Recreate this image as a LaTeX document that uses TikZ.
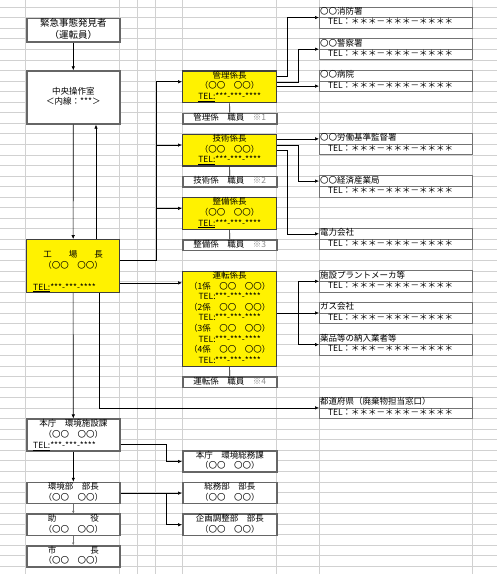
\documentclass[tikz,border=0pt]{standalone}
\usepackage{fontspec}
\setmainfont{Noto Sans CJK JP}
\usetikzlibrary{arrows.meta, positioning}

\newcommand{\cellfont}{\fontsize{8.5}{10.55}\selectfont}

\tikzset{
  grid line/.style={draw=black!18, line width=0.4pt},
  plainbox/.style={draw=black!60, line width=1.6pt, fill=white, anchor=north west,
    minimum width=93pt, inner sep=0pt, align=center, font=\cellfont},
  chiefbox/.style={draw=black!75, line width=1.3pt, fill=yellow, anchor=north west,
    minimum width=94pt, inner sep=0pt, align=center, font=\cellfont},
  staffbox/.style={draw=black!60, line width=1.6pt, fill=white, anchor=north west,
    minimum width=94pt, minimum height=10.55pt, inner sep=0pt, font=\cellfont},
  contactbox/.style={draw=black!55, line width=0.7pt, fill=white, anchor=north west,
    text width=151pt, inner xsep=1pt, inner ysep=0pt, outer sep=0pt,
    minimum height=10.55pt, align=left, font=\cellfont},
  telnote/.style={anchor=west, inner sep=0pt, font=\cellfont},
  link/.style={line width=0.6pt, -{Latex[length=4pt,width=3.5pt]}},
  smalllink/.style={draw=black!55, line width=0.4pt, -{Latex[length=2.5pt,width=2.5pt]}},
}

\begin{document}
\begin{tikzpicture}[x=1pt, y=-1pt]
  \useasboundingbox (0,0) rectangle (497,574);
  \fill[white] (0,0) rectangle (497,574);
  % sheet grid
  \foreach \k in {0,...,53}
    \draw[grid line] (0,7+10.55*\k) -- (497,7+10.55*\k);
  \foreach \x in {25,119,137,155,182,276,319,472}
    \draw[grid line] (\x,0) -- (\x,574);

  % left column
  \node[plainbox, minimum height=21.1pt, font=\fontsize{9.5}{10.55}\selectfont]
    (finder) at (26,17.55) {\strut 緊急事態発見者\\\strut（運転員）};
  \node[plainbox, minimum height=52.75pt] (control) at (26,70.3)
    {\strut 中央操作室\\\strut ＜内線：***＞};
  \node[chiefbox, minimum width=93pt, minimum height=52.75pt] (manager) at (26,239.1)
    {\strut 工　　場　　長\\\strut（〇〇　〇〇）\\\strut};
  \node[telnote] (manager-tel) at ([xshift=7pt,yshift=5.3pt]manager.south west)
    {\underline{TEL:}***-***-****};
  \node[plainbox, minimum height=31.65pt] (office) at (26,418.45)
    {\strut 本庁　環境施設課\\\strut（〇〇　〇〇）\\\strut};
  \node[telnote] (office-tel) at ([xshift=7pt,yshift=5.3pt]office.south west)
    {\underline{TEL:}***-***-****};
  \node[plainbox, minimum height=21.1pt] (envdir) at (26,481.75)
    {\strut 環境部　部長\\\strut（〇〇　〇〇）};
  \node[plainbox, minimum height=21.1pt] (deputy) at (26,513.4)
    {\strut 助　　　　役\\\strut（〇〇　〇〇）};
  \node[plainbox, minimum height=21.1pt] (mayor) at (26,545.05)
    {\strut 市　　　　長\\\strut（〇〇　〇〇）};

  % section chiefs
  \node[chiefbox, minimum height=31.65pt] (admin) at (182,70.3)
    {\strut 管理係長\\\strut（〇〇　〇〇）\\\strut\underline{TEL:}***-***-****};
  \node[staffbox] (admin-staff) at (182,112.5) {\strut 管理係　職員　\textcolor{black!45}{※1}};
  \node[chiefbox, minimum height=31.65pt] (tech) at (182,133.6)
    {\strut 技術係長\\\strut（〇〇　〇〇）\\\strut\underline{TEL:}***-***-****};
  \node[staffbox] (tech-staff) at (182,175.8) {\strut 技術係　職員　\textcolor{black!45}{※2}};
  \node[chiefbox, minimum height=31.65pt] (maint) at (182,196.9)
    {\strut 整備係長\\\strut（〇〇　〇〇）\\\strut\underline{TEL:}***-***-****};
  \node[staffbox] (maint-staff) at (182,239.1) {\strut 整備係　職員　\textcolor{black!45}{※3}};
  \node[chiefbox, minimum height=94.95pt] (ops) at (182,270.75)
    {\strut 運転係長\\
     \strut（1係　〇〇　〇〇）\\\strut TEL:***-***-****\\
     \strut（2係　〇〇　〇〇）\\\strut TEL:***-***-****\\
     \strut（3係　〇〇　〇〇）\\\strut TEL:***-***-****\\
     \strut（4係　〇〇　〇〇）\\\strut TEL:***-***-****};
  \node[staffbox] (ops-staff) at (182,376.25) {\strut 運転係　職員　\textcolor{black!45}{※4}};

  % city hall
  \node[plainbox, minimum width=94pt, minimum height=21.1pt] (hq) at (182,450.1)
    {\strut 本庁　環境総務課\\\strut（〇〇　〇〇）};
  \node[plainbox, minimum width=94pt, minimum height=21.1pt] (genaff) at (182,481.75)
    {\strut 総務部　部長\\\strut（〇〇　〇〇）};
  \node[plainbox, minimum width=94pt, minimum height=21.1pt] (planning) at (182,513.4)
    {\strut 企画調整部　部長\\\strut（〇〇　〇〇）};

  % outside contacts
  \foreach \id/\top/\name in {fire/7/〇〇消防署, police/38.65/〇〇警察署,
      hospital/70.3/〇〇病院, labour/133.6/〇〇労働基準監督署,
      meti/175.8/〇〇経済産業局, power/228.55/電力会社,
      plant/270.75/施設プラントメーカ等, gas/302.4/ガス会社,
      chem/334.05/薬品等の納入業者等, pref/397.35/都道府県（廃棄物担当窓口）}{
    \node[contactbox] (\id) at (319,\top) {\strut\name};
    \node[contactbox, below=0pt of \id] (\id-tel)
      {\strut\hspace*{8pt}TEL：＊＊＊－＊＊＊－＊＊＊＊};
  }

  % line columns
  \coordinate (busA) at (156,0);
  \coordinate (colA) at (287,0);
  \coordinate (colB) at (298,0);
  \coordinate (upx) at (96,0);
  \coordinate (colC) at (99,0);
  \coordinate (colD) at (166,0);

  % reporting lines
  \draw[link] (finder.south) -- (control.north);
  \draw[link] (control.south) -- (manager.north);
  \draw[link] (upx |- manager.north) -- (upx |- control.south);
  \draw[link] ([yshift=5.5pt]manager.east) -| ([yshift=5pt]busA |- admin.west)
    -- ([yshift=5pt]admin.west);
  \draw[link] ([yshift=5pt]busA |- tech.west) -- ([yshift=5pt]tech.west);
  \draw[link] ([yshift=5pt]busA |- maint.west) -- ([yshift=5pt]maint.west);
  \draw[link] ([yshift=36pt]manager.east |- ops.west) -- ([yshift=36pt]ops.west);
  \draw[link] (colC |- manager.south) |- (pref.south west);
  \draw[link] (manager.south) -- (office.north);
  \draw[link] (office.south) -- (envdir.north);
  \draw[smalllink] (envdir.south) -- (deputy.north);
  \draw[smalllink] (deputy.south) -- (mayor.north);
  \draw[link] ([yshift=-9.5pt]office.east) -| (colD |- hq.west) -- (hq.west);
  \draw[link] (envdir.east) -- (genaff.west);
  \draw[link] (colD |- envdir.east) |- (planning.west);

  % staff
  \draw[line width=0.6pt] (admin.south) -- (admin-staff.north);
  \draw[line width=0.6pt] (tech.south) -- (tech-staff.north);
  \draw[line width=0.6pt] (maint.south) -- (maint-staff.north);
  \draw[line width=0.6pt] (ops.south) -- (ops-staff.north);

  % contacts
  \draw[link] ([yshift=10pt]admin.east) -| (colA |- fire.south west) -- (fire.south west);
  \draw[link] ([yshift=4pt]admin.east) -| (colB |- police.south west) -- (police.south west);
  \draw[link] (admin.east |- hospital-tel.west) -- (hospital-tel.west);
  \draw[link] (tech.east |- labour.west) -- (labour.west);
  \draw[link] ([yshift=4.5pt]tech.east) -| (colB |- meti.west) -- (meti.west);
  \draw[link] (tech.east) -| (colA |- power.west) -- (power.west);
  \draw[link] (ops.east |- gas.south west) -- (gas.south west);
  \draw[line width=0.6pt] (colB |- plant.south west) -- (colB |- chem.south west);
  \draw[link] (colB |- plant.south west) -- (plant.south west);
  \draw[link] (colB |- chem.south west) -- (chem.south west);
\end{tikzpicture}
\end{document}
